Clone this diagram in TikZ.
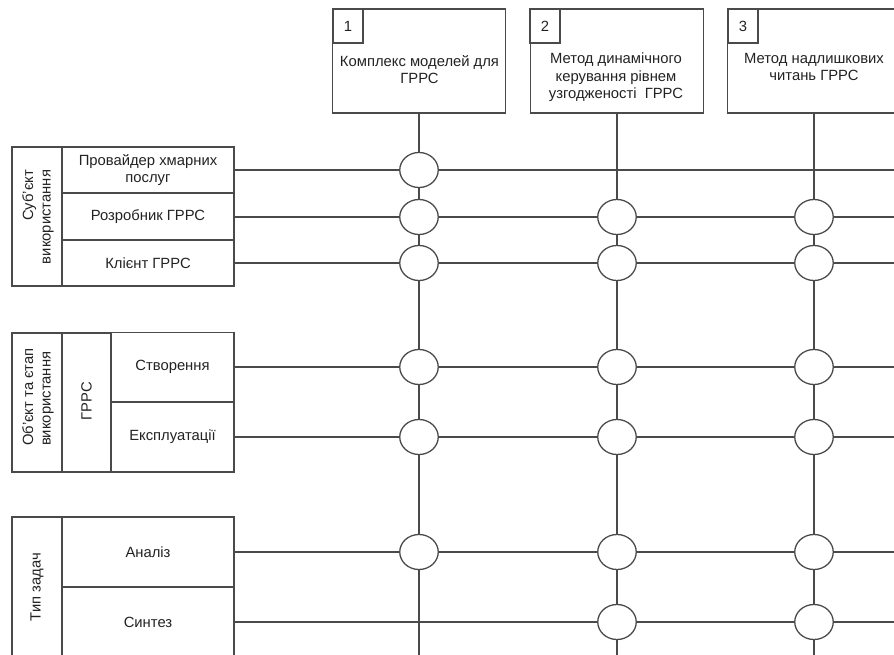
\documentclass[tikz,border=0pt]{standalone}
\usepackage{fontspec}
\setmainfont{Liberation Sans}
\usetikzlibrary{shapes.geometric}

\definecolor{linegray}{HTML}{4A4A4A}
\definecolor{textgray}{HTML}{222222}

\begin{document}
\begin{tikzpicture}[x=1pt, y=-1pt,
    font=\fontsize{14.8}{17.5}\selectfont, text=textgray]
\useasboundingbox (0, 0) rectangle (894, 655);
\clip (0, 0) rectangle (894, 655);

% helper points at the right and bottom edges
\coordinate (e) at (905, 0);
\coordinate (bot) at (0, 665);

\begin{scope}[
    every node/.style={rectangle,draw=linegray,line width=1.3pt,inner sep=0pt},
    every label/.append style={draw=none}]
    % methods along the top
    \node (b1) at (419, 61) [minimum width=173, minimum height=104] {};
    \node (b2) at (617, 61) [minimum width=173, minimum height=104] {};
    \node (b3) at (814, 61) [minimum width=173, minimum height=104] {};

    \node (n1) at (348, 26) [minimum width=30, minimum height=34] {1};
    \node (n2) at (545, 26) [minimum width=30, minimum height=34] {2};
    \node (n3) at (743, 26) [minimum width=30, minimum height=34] {3};

    % % subject of use
    \node (g1) at (37, 216.5) [minimum width=50, minimum height=139] {};
    \node (r1) at (148, 170) [minimum width=172, minimum height=46, align=center] {Провайдер хмарних\\послуг};
    \node (r2) at (148, 217) [minimum width=172, minimum height=47] {Розробник ГРРС};
    \node (r3) at (148, 263) [minimum width=172, minimum height=46] {Клієнт ГРРС};

    % % object and stage of use
    \node (g2) at (37, 402.5) [minimum width=50, minimum height=139] {};
    \node (s2) at (86.5, 402.5) [minimum width=49, minimum height=139] {};
    \node (r4) at (172.5, 367) [minimum width=123, minimum height=69] {Створення};
    \node (r5) at (172.5, 437) [minimum width=123, minimum height=70] {Експлуатації};

    % % task type
    \node (g3) at (37, 587) [minimum width=50, minimum height=140] {};
    \node (r6) at (148, 552) [minimum width=172, minimum height=70] {Аналіз};
    \node (r7) at (148, 622) [minimum width=172, minimum height=70] {Синтез};
\end{scope}

% titles of the methods
\begin{scope}[every node/.style={anchor=north,align=center,inner sep=0pt}]
    \node (t1) at (419.5, 55) {Комплекс моделей для\\ГРРС};
    \node (t2) at (616, 53) {Метод динамічного\\керування рівнем\\узгодженості~ ГРРС};
    \node (t3) at (814, 53) {Метод надлишкових\\читань ГРРС};
\end{scope}

% rotated group captions
\begin{scope}[every node/.style={rotate=90,inner sep=0pt}]
    \node (l1) at (38, 217) [align=right] {Суб’єкт\\використання};
    \node (l2) at (38, 397) [align=left] {Об’єкт та єтап\\використання};
    \node (l3) at (86.5, 401) {ГРРС};
    \node (l4) at (37, 587) {Тип задач};
\end{scope}

% grid lines
\begin{scope}[draw=linegray, line width=1.3pt]
    \draw (b1.south) -- (b1.south |- bot);
    \draw (b2.south) -- (b2.south |- bot);
    \draw (b3.south) -- (b3.south |- bot);

    \draw (r1.east) -- (r1.east -| e);
    \draw (r2.east) -- (r2.east -| e);
    \draw (r3.east) -- (r3.east -| e);
    \draw (r4.east) -- (r4.east -| e);
    \draw (r5.east) -- (r5.east -| e);
    \draw (r6.east) -- (r6.east -| e);
    \draw (r7.east) -- (r7.east -| e);
\end{scope}

% joints where a method applies
\begin{scope}[every node/.style={ellipse,draw=linegray,line width=1.3pt,fill=white,
    minimum width=38.5, minimum height=35, inner sep=0pt}]
    \node (j11) at (b1 |- r1) {};
    \node (j12) at (b1 |- r2) {};
    \node (j13) at (b1 |- r3) {};
    \node (j14) at (b1 |- r4) {};
    \node (j15) at (b1 |- r5) {};
    \node (j16) at (b1 |- r6) {};

    % % 2nd column
    \node (j22) at (b2 |- r2) {};
    \node (j23) at (b2 |- r3) {};
    \node (j24) at (b2 |- r4) {};
    \node (j25) at (b2 |- r5) {};
    \node (j26) at (b2 |- r6) {};
    \node (j27) at (b2 |- r7) {};

    % % 3rd column
    \node (j32) at (b3 |- r2) {};
    \node (j33) at (b3 |- r3) {};
    \node (j34) at (b3 |- r4) {};
    \node (j35) at (b3 |- r5) {};
    \node (j36) at (b3 |- r6) {};
    \node (j37) at (b3 |- r7) {};
\end{scope}
\end{tikzpicture}
\end{document}
